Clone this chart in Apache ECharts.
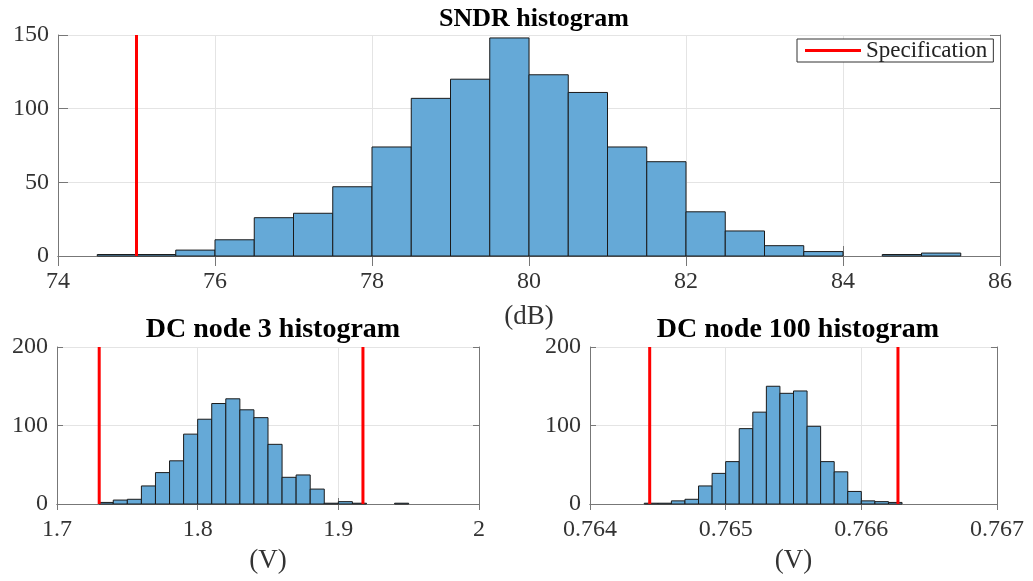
<!DOCTYPE html>
<html>
<head>
<meta charset="utf-8">
<script src="https://cdn.jsdelivr.net/npm/echarts@6/dist/echarts.min.js"></script>
<style>
html, body { margin: 0; padding: 0; background: #fff; }
#main { width: 1033px; height: 581px; }
</style>
</head>
<body>
<div id="main"></div>
<script>
// bin left edges and counts
var sndrEdges = [74.5, 75, 75.5, 76, 76.5, 77, 77.5, 78, 78.5, 79, 79.5, 80, 80.5, 81, 81.5, 82, 82.5, 83, 83.5, 84, 84.5, 85];
var sndrCounts = [1, 1, 4, 11, 26, 29, 47, 74, 107, 120, 148, 123, 111, 74, 64, 30, 17, 7, 3, 0, 1, 2];
var sndrBin = 0.5;
var sndrSpec = [75];

var dc3Edges = [1.73, 1.74, 1.75, 1.76, 1.77, 1.78, 1.79, 1.80, 1.81, 1.82, 1.83, 1.84, 1.85, 1.86, 1.87, 1.88, 1.89, 1.90, 1.91, 1.92, 1.93, 1.94];
var dc3Counts = [2, 5, 6, 23, 40, 55, 89, 108, 128, 134, 120, 110, 76, 34, 37, 19, 1, 3, 1, 0, 0, 1];
var dc3Bin = 0.01;
var dc3Spec = [1.73, 1.9175];

var dc100Edges = [0.7644, 0.7645, 0.7646, 0.7647, 0.7648, 0.7649, 0.7650, 0.7651, 0.7652, 0.7653, 0.7654, 0.7655, 0.7656, 0.7657, 0.7658, 0.7659, 0.7660, 0.7661, 0.7662];
var dc100Counts = [1, 1, 4, 6, 23, 39, 54, 96, 117, 150, 141, 144, 99, 54, 41, 16, 4, 3, 2];
var dc100Bin = 0.0001;
var dc100Spec = [0.76444, 0.76627];

var FONT = "Liberation Serif";
var AXIS = "#777";

function histData(edges, counts, w) {
    var out = [];
    for (var i = 0; i < edges.length; i++) {
        if (counts[i] > 0) out.push([edges[i], edges[i] + w, counts[i]]);
    }
    return out;
}

function renderBin(params, api) {
    var a = api.coord([api.value(0), api.value(2)]);
    var b = api.coord([api.value(1), 0]);
    return {
        type: "rect",
        shape: { x: a[0], y: a[1], width: b[0] - a[0], height: b[1] - a[1] },
        style: { fill: "#65A9D7", stroke: "#1a1a1a", lineWidth: 1 }
    };
}

function xAxes(gi, min, max, step, name, tick, labelMargin, nameGap) {
    return [{
        type: "value", gridIndex: gi, min: min, max: max, interval: step,
        name: name, nameLocation: "middle", nameGap: nameGap,
        nameTextStyle: { fontFamily: FONT, fontSize: 27, color: "#333" },
        axisLine: { show: true, lineStyle: { color: AXIS, width: 1 } },
        axisTick: { show: true, inside: true, length: tick, lineStyle: { color: AXIS } },
        axisLabel: { fontFamily: FONT, fontSize: 24, color: "#333", margin: labelMargin },
        splitLine: { show: true, lineStyle: { color: "#e4e4e4" } }
    }, {
        type: "value", gridIndex: gi, position: "top", min: min, max: max, interval: step,
        axisLine: { show: true, lineStyle: { color: AXIS, width: 1 } },
        axisTick: { show: true, inside: true, length: tick, lineStyle: { color: AXIS } },
        axisLabel: { show: false },
        splitLine: { show: false }
    }];
}

function yAxes(gi, max, step, tick) {
    return [{
        type: "value", gridIndex: gi, min: 0, max: max, interval: step,
        axisLine: { show: true, lineStyle: { color: AXIS, width: 1 } },
        axisTick: { show: true, inside: true, length: tick, lineStyle: { color: AXIS } },
        axisLabel: { fontFamily: FONT, fontSize: 24, color: "#333", margin: 9 },
        splitLine: { show: true, lineStyle: { color: "#e4e4e4" } }
    }, {
        type: "value", gridIndex: gi, position: "right", min: 0, max: max, interval: step,
        axisLine: { show: true, lineStyle: { color: AXIS, width: 1 } },
        axisTick: { show: true, inside: true, length: tick, lineStyle: { color: AXIS } },
        axisLabel: { show: false },
        splitLine: { show: false }
    }];
}

function specSeries(xi, yi, vals, top) {
    return vals.map(function (v) {
        return {
            name: "Specification", type: "line", xAxisIndex: xi, yAxisIndex: yi,
            data: [[v, 0], [v, top]], symbol: "none", z: 5,
            lineStyle: { color: "#ff0000", width: 3 }, itemStyle: { color: "#ff0000" },
            silent: true
        };
    });
}

var bigTitle = { fontFamily: FONT, fontSize: 26, fontWeight: "bold", color: "#000" };
var subTitle = { fontFamily: FONT, fontSize: 28, fontWeight: "bold", color: "#000" };

var option = {
    animation: false,
    backgroundColor: "#fff",
    title: [
        { text: "SNDR histogram", left: 529, top: 1, textAlign: "center", textStyle: bigTitle },
        { text: "DC node 3 histogram", left: 268, top: 311, textAlign: "center", textStyle: subTitle },
        { text: "DC node 100 histogram", left: 793, top: 311, textAlign: "center", textStyle: subTitle }
    ],
    legend: {
        data: ["Specification"], left: 797, top: 39,
        icon: "rect", itemWidth: 56, itemHeight: 3,
        padding: [0, 6, 0, 8], itemGap: 4,
        borderColor: "#333", borderWidth: 1, backgroundColor: "#fff",
        textStyle: { fontFamily: FONT, fontSize: 23, color: "#222", lineHeight: 21, padding: [0, 0, 0, 0] }
    },
    grid: [
        { left: 58, top: 35, width: 942, height: 221 },
        { left: 57, top: 347, width: 422, height: 157 },
        { left: 590, top: 347, width: 407, height: 157 }
    ],
    xAxis: [].concat(
        xAxes(0, 74, 86, 2, "(dB)", 10, 14, 47),
        xAxes(1, 1.7, 2.0, 0.1, "(V)", 6, 14, 43),
        xAxes(2, 0.764, 0.767, 0.001, "(V)", 6, 14, 43)
    ),
    yAxis: [].concat(
        yAxes(0, 150, 50, 10),
        yAxes(1, 200, 100, 6),
        yAxes(2, 200, 100, 6)
    ),
    series: [].concat(
        [{ name: "SNDR", type: "custom", xAxisIndex: 0, yAxisIndex: 0, renderItem: renderBin,
           encode: { x: [0, 1], y: 2 }, data: histData(sndrEdges, sndrCounts, sndrBin) }],
        specSeries(0, 0, sndrSpec, 150),
        [{ name: "DC node 3", type: "custom", xAxisIndex: 2, yAxisIndex: 2, renderItem: renderBin,
           encode: { x: [0, 1], y: 2 }, data: histData(dc3Edges, dc3Counts, dc3Bin) }],
        specSeries(2, 2, dc3Spec, 200),
        [{ name: "DC node 100", type: "custom", xAxisIndex: 4, yAxisIndex: 4, renderItem: renderBin,
           encode: { x: [0, 1], y: 2 }, data: histData(dc100Edges, dc100Counts, dc100Bin) }],
        specSeries(4, 4, dc100Spec, 200)
    )
};

var chart = echarts.init(document.getElementById("main"));
chart.setOption(option);
</script>
</body>
</html>
